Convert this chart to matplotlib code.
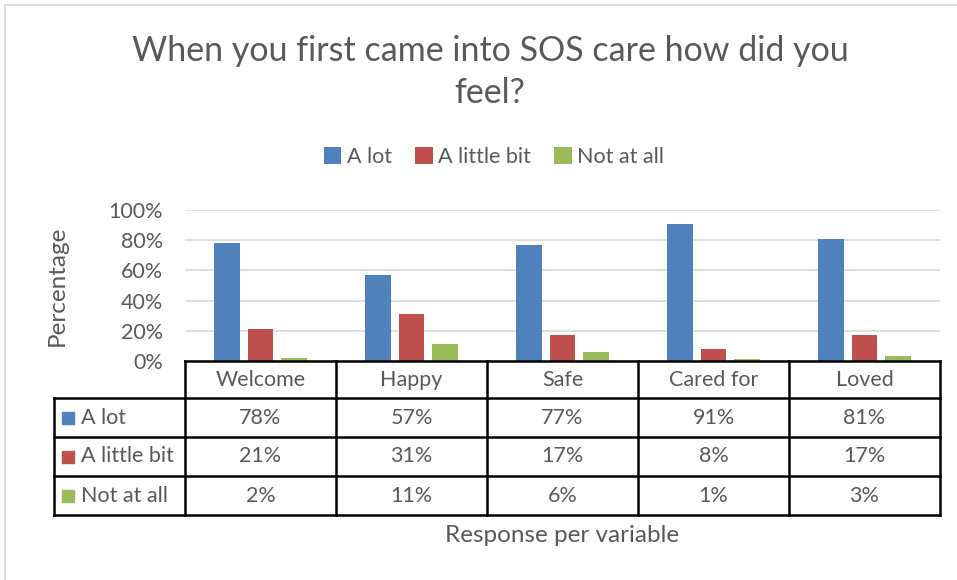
import matplotlib
matplotlib.use("Agg")
import matplotlib.pyplot as plt
import numpy as np

# data
categories = ["Welcome", "Happy", "Safe", "Cared for", "Loved"]
series = ["A lot", "A little bit", "Not at all"]
a_lot = [78, 57, 77, 91, 81]
a_little_bit = [21, 31, 17, 8, 17]
not_at_all = [2, 11, 6, 1, 3]
values = [a_lot, a_little_bit, not_at_all]
colors = ["#4F81BD", "#C0504D", "#9BBB59"]
yticks = [0, 20, 40, 60, 80, 100]

txt = "#595959"
plt.rcParams["font.family"] = ["Lato", "DejaVu Sans"]

W, H = 957, 580
fig = plt.figure(figsize=(W / 100, H / 100), dpi=100)


def fx(x):
    return x / W


def fy(y):
    return 1 - y / H


# chart border
fig.add_artist(plt.Line2D([fx(5), fx(5)], [fy(5), 0], color="#d9d9d9", lw=1.2))
fig.add_artist(plt.Line2D([fx(5), 1], [fy(5), fy(5)], color="#d9d9d9", lw=1.2))

fig.text(fx(490), fy(72), "When you first came into SOS care how did you\nfeel?",
         ha="center", va="center", fontsize=24.5, color=txt, linespacing=1.4)

# plot area
left, right, top, bottom = 185, 940, 210, 361
ax = fig.add_axes([fx(left), fy(bottom), fx(right - left), (bottom - top) / H])
x = np.arange(len(categories))
offsets = [-0.22, 0.0, 0.22]
for vals, off, c, name in zip(values, offsets, colors, series):
    ax.bar(x + off, vals, width=0.172, color=c, label=name, zorder=3)
ax.set_xlim(-0.5, len(categories) - 0.5)
ax.set_ylim(0, 100)
ax.set_yticks(yticks)
ax.set_yticklabels(["%d%%" % t for t in yticks], fontsize=15.5, color=txt)
ax.tick_params(axis="y", length=0, pad=16)
ax.set_xticks([])
for s in ax.spines.values():
    s.set_visible(False)
ax.grid(axis="y", color="#d9d9d9", lw=1.2, zorder=0)
ax.set_ylabel("Percentage", fontsize=17.5, color=txt)
ax.yaxis.set_label_coords(-(left - 68) / (right - left), 0.5)

leg = fig.legend(loc="center", bbox_to_anchor=(fx(494), fy(157)), ncol=3,
                 frameon=False, fontsize=15.5, handlelength=0.8, handleheight=0.8,
                 handletextpad=0.25, columnspacing=1.1, labelcolor=txt)

# data table
tab = fig.add_axes([0, 0, 1, 1])
tab.set_xlim(0, W)
tab.set_ylim(H, 0)
tab.axis("off")
colw = (right - left) / len(categories)
row_y = [361, 398, 437, 476, 515]
lw = 1.8
# horizontal lines
tab.plot([left, right], [row_y[0], row_y[0]], color="black", lw=lw)
for yy in row_y[1:]:
    tab.plot([54, right], [yy, yy], color="black", lw=lw)
# vertical lines
tab.plot([54, 54], [row_y[1], row_y[-1]], color="black", lw=lw)
for i in range(len(categories) + 1):
    xx = left + i * colw
    tab.plot([xx, xx], [row_y[0], row_y[-1]], color="black", lw=lw)

for i, cat in enumerate(categories):
    cx = left + (i + 0.5) * colw
    tab.text(cx, (row_y[0] + row_y[1]) / 2, cat, ha="center", va="center",
             fontsize=15.5, color=txt)
    for r, vals in enumerate(values):
        tab.text(cx, (row_y[r + 1] + row_y[r + 2]) / 2, "%d%%" % vals[i],
                 ha="center", va="center", fontsize=15.5, color=txt)

for r, (name, c) in enumerate(zip(series, colors)):
    yc = (row_y[r + 1] + row_y[r + 2]) / 2
    tab.add_patch(plt.Rectangle((62, yc - 6), 12, 12, color=c))
    tab.text(81, yc, name, ha="left", va="center", fontsize=15.5, color=txt)

fig.text(fx(562), fy(535), "Response per variable", ha="center", va="center",
         fontsize=17.5, color=txt)

fig.savefig("out.png", dpi=100)
